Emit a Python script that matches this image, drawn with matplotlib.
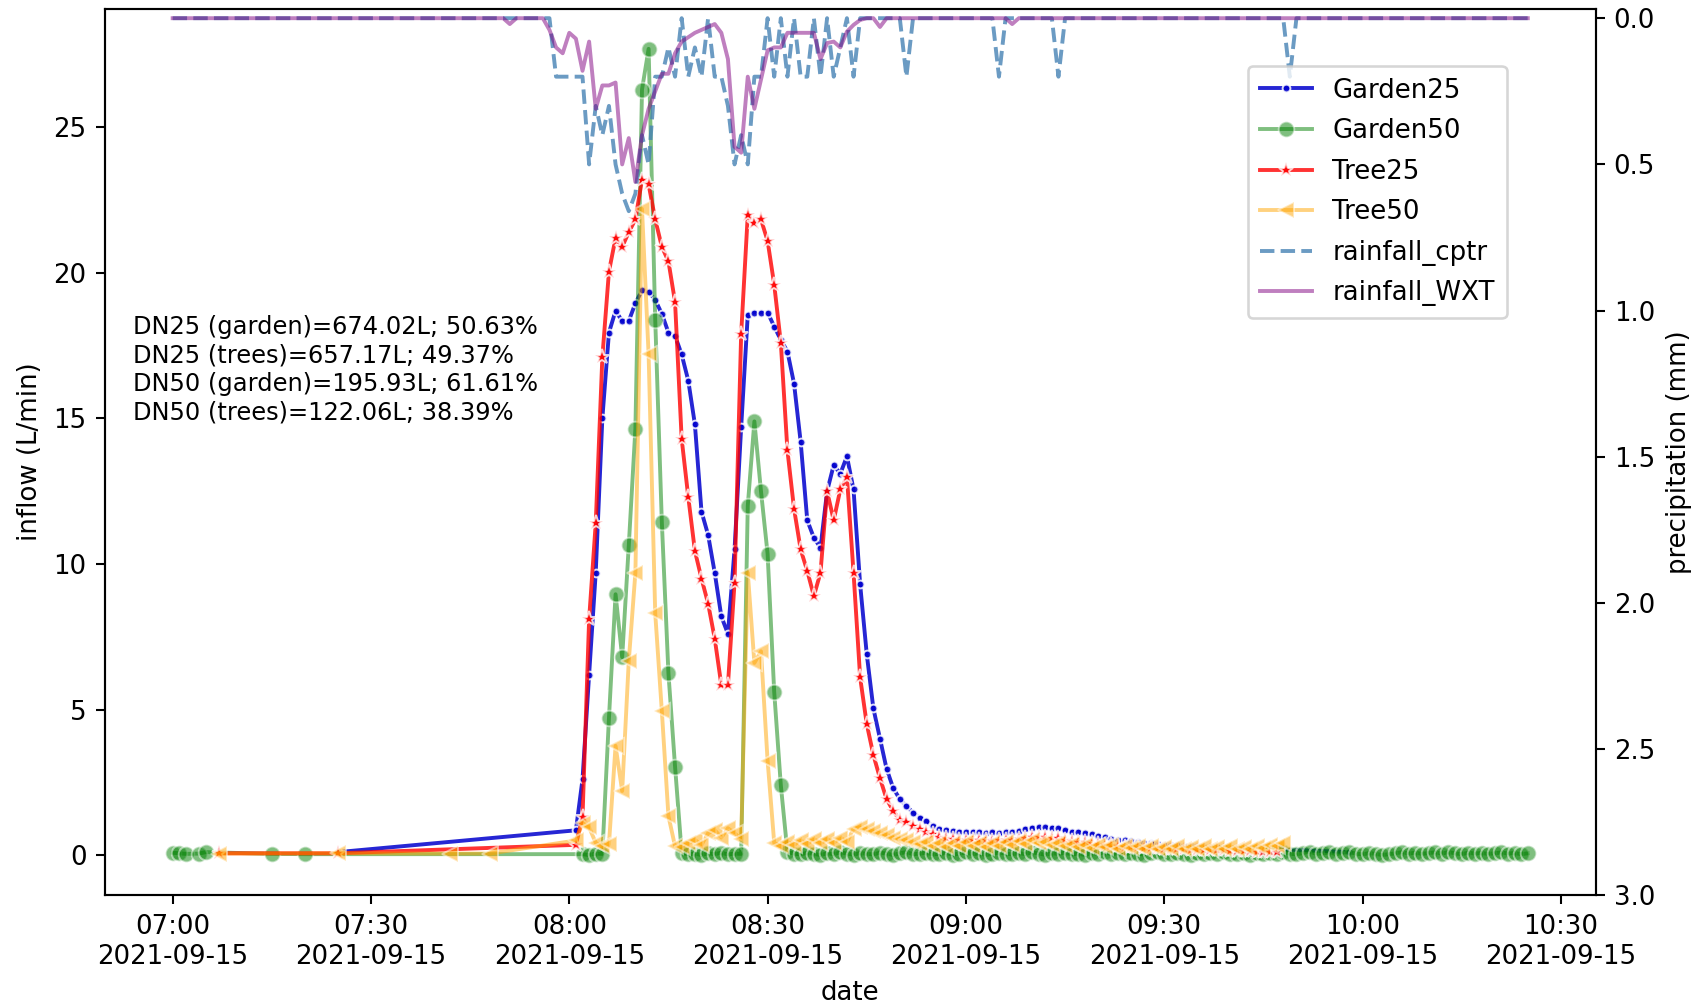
import pandas as pd
import matplotlib
matplotlib.use('Agg')
import matplotlib.pyplot as plt
import matplotlib.dates as mdates

start = pd.Timestamp('2021-09-15 07:00')

# inflow readings (L/min), times as minutes after 07:00
g25_t = [25] + list(range(61, 168)) + [178]
g25_v = [0.1,
         0.85, 2.6, 6.2, 9.7, 15.0, 17.95, 18.7, 18.35, 18.35, 18.96,
         19.4, 19.36, 19.07, 18.6, 17.95, 17.84, 17.2, 16.3, 14.8, 11.8,
         11.0, 9.7, 8.2, 7.6, 10.5, 14.7, 18.56, 18.64, 18.64, 18.64,
         18.16, 17.7, 17.3, 16.2, 14.2, 11.5, 10.9, 10.56, 12.5, 13.4,
         13.1, 13.7, 12.56, 9.3, 6.9, 5.04, 4.0, 2.96, 2.3, 1.92,
         1.68, 1.46, 1.28, 1.17, 1.0, 0.88, 0.85, 0.82, 0.8, 0.78,
         0.8, 0.78, 0.77, 0.78, 0.76, 0.78, 0.8, 0.82, 0.9, 0.94,
         0.95, 0.95, 0.94, 0.92, 0.85, 0.8, 0.8, 0.74, 0.72, 0.66,
         0.62, 0.55, 0.52, 0.5, 0.47, 0.45, 0.42, 0.4, 0.38, 0.36,
         0.35, 0.33, 0.32, 0.3, 0.3, 0.28, 0.27, 0.27, 0.26, 0.25,
         0.25, 0.24, 0.23, 0.22, 0.22, 0.21, 0.2,
         0.1]

g50_t = [0, 1, 2, 4, 5, 15, 20] + list(range(62, 206))
g50_v = [0.08, 0.06, 0.04, 0.05, 0.1, 0.04, 0.03,
         0.03, 0.0, 0.05, 0.04, 4.7, 8.96, 6.8, 10.64, 14.65, 26.3,
         27.7, 18.4, 11.44, 6.24, 3.04, 0.08, 0.02, 0.05, 0.0, 0.06,
         0.03, 0.08, 0.02, 0.05, 0.04, 12.0, 14.9, 12.5, 10.35, 5.6,
         2.4, 0.1,
         0.05, 0.02, 0.08, 0.04, 0.0, 0.06, 0.03, 0.09, 0.05, 0.01, 0.07, 0.04,
         0.02, 0.08, 0.05, 0.0, 0.06, 0.1, 0.03, 0.05, 0.08, 0.02, 0.04, 0.07,
         0.01, 0.05, 0.09, 0.03, 0.06, 0.0, 0.04, 0.08, 0.05, 0.02, 0.07, 0.03,
         0.1, 0.05, 0.01, 0.06, 0.04, 0.08, 0.02, 0.05, 0.0, 0.07, 0.04, 0.09,
         0.03, 0.06, 0.02, 0.08, 0.05, 0.01, 0.06, 0.1, 0.04, 0.02, 0.07, 0.05,
         0.0, 0.08, 0.03, 0.06, 0.04, 0.09, 0.02, 0.05, 0.07, 0.01, 0.06, 0.04,
         0.08, 0.03, 0.1, 0.05, 0.02, 0.07, 0.12, 0.04, 0.06, 0.09, 0.03, 0.08,
         0.1, 0.05, 0.02, 0.07, 0.04, 0.0, 0.03, 0.06, 0.1, 0.05, 0.08, 0.04,
         0.07, 0.09, 0.05, 0.1, 0.06, 0.03, 0.08, 0.05, 0.07, 0.04, 0.06, 0.09,
         0.05, 0.07, 0.03, 0.06]

t25_t = [7, 25] + list(range(61, 168))
t25_v = [0.06, 0.06,
         0.35, 1.3, 8.1, 11.4, 17.1, 20.05, 21.2, 20.9, 21.4, 21.84,
         23.2, 23.04, 21.84, 20.9, 20.4, 19.0, 14.3, 12.3, 10.45, 9.5,
         8.64, 7.44, 5.84, 5.84, 9.36, 17.9, 22.0, 21.7, 21.84, 21.1,
         19.6, 17.6, 13.9, 11.9, 10.5, 9.76, 8.9, 9.7, 12.5, 11.5,
         12.56, 13.0, 9.7, 6.1, 4.5, 3.44, 2.64, 1.92, 1.52, 1.2,
         1.15, 1.0, 0.88, 0.79, 0.71, 0.62, 0.58, 0.55, 0.53, 0.52,
         0.52, 0.5, 0.5, 0.49, 0.5, 0.5, 0.52, 0.55, 0.58, 0.62,
         0.63, 0.62, 0.6, 0.58, 0.5, 0.48, 0.46, 0.45, 0.42, 0.38,
         0.35, 0.33, 0.3, 0.28, 0.27, 0.26, 0.25, 0.24, 0.23, 0.22,
         0.21, 0.2, 0.2, 0.19, 0.18, 0.18, 0.17, 0.16, 0.16, 0.15,
         0.14, 0.14, 0.13, 0.12, 0.12, 0.11, 0.1]

t50_t = [7, 25, 42, 48] + list(range(61, 169))
t50_v = [0.05, 0.06, 0.05, 0.05,
         0.5, 1.1, 0.95, 0.42, 0.3, 0.37, 3.75, 2.2, 6.67, 9.7,
         22.2, 17.2, 8.3, 4.95, 1.34, 0.3, 0.29, 0.4, 0.52, 0.35,
         0.75, 0.86, 0.6, 0.92, 0.75, 0.55, 9.7, 6.6, 7.0, 3.24,
         0.42,
         0.3, 0.45, 0.35, 0.5, 0.38, 0.55, 0.4, 0.55, 0.42, 0.6, 0.45, 0.9,
         0.95, 0.88, 0.82, 0.75, 0.7, 0.6, 0.55, 0.5, 0.45, 0.38, 0.45, 0.3,
         0.42, 0.28, 0.4, 0.3, 0.45, 0.32, 0.4, 0.28, 0.42, 0.3, 0.44, 0.35,
         0.48, 0.38, 0.5, 0.4, 0.45, 0.35, 0.42, 0.3, 0.38, 0.28, 0.36, 0.25,
         0.35, 0.27, 0.33, 0.22, 0.32, 0.25, 0.3, 0.22, 0.3, 0.2, 0.28, 0.22,
         0.3, 0.2, 0.28, 0.22, 0.3, 0.2, 0.28, 0.22, 0.3, 0.2, 0.28, 0.22,
         0.3, 0.25, 0.35, 0.3, 0.4]

# rainfall (mm per minute); minutes not listed recorded 0
rain_minutes = list(range(0, 206))
cptr_wet = {58: 0.2, 59: 0.2, 60: 0.2, 61: 0.2, 62: 0.2, 63: 0.5, 64: 0.3,
            65: 0.4, 66: 0.3, 67: 0.5, 68: 0.6, 69: 0.66, 70: 0.6, 71: 0.4,
            72: 0.5, 73: 0.2, 74: 0.2, 75: 0.1, 76: 0.2, 78: 0.2, 79: 0.1,
            80: 0.2, 82: 0.2, 83: 0.2, 84: 0.3, 85: 0.5, 86: 0.4, 87: 0.5,
            88: 0.2, 89: 0.2, 91: 0.2, 93: 0.2, 95: 0.2, 96: 0.2, 98: 0.2,
            100: 0.2, 101: 0.1, 103: 0.2, 111: 0.2, 125: 0.2, 134: 0.2,
            169: 0.2}
wxt_wet = {51: 0.02, 57: 0.04, 58: 0.1, 59: 0.12, 60: 0.05, 61: 0.07,
           62: 0.18, 63: 0.08, 64: 0.31, 65: 0.23, 66: 0.23, 67: 0.22,
           68: 0.5, 69: 0.41, 70: 0.56, 71: 0.4, 72: 0.31, 73: 0.25,
           74: 0.19, 75: 0.19, 76: 0.12, 77: 0.08, 78: 0.065, 79: 0.05,
           80: 0.04, 81: 0.03, 82: 0.02, 83: 0.05, 84: 0.14, 85: 0.44,
           86: 0.46, 87: 0.2, 88: 0.31, 89: 0.21, 90: 0.11, 91: 0.1,
           92: 0.1, 93: 0.05, 94: 0.05, 95: 0.05, 96: 0.05, 97: 0.05,
           98: 0.14, 99: 0.085, 100: 0.08, 101: 0.1, 102: 0.046,
           103: 0.023, 104: 0.006, 107: 0.03, 127: 0.02}

volumes = ['DN25 (garden)=674.02L; 50.63%',
           'DN25 (trees)=657.17L; 49.37%',
           'DN50 (garden)=195.93L; 61.61%',
           'DN50 (trees)=122.06L; 38.39%']


def to_time(minutes):
    return start + pd.to_timedelta(minutes, unit='m')


rain_time = to_time(rain_minutes)
cptr = [cptr_wet.get(m, 0.0) for m in rain_minutes]
wxt = [wxt_wet.get(m, 0.0) for m in rain_minutes]

fig, ax = plt.subplots(figsize=(1692 / 187, 1006 / 187), dpi=187)
fig.subplots_adjust(left=0.062, right=0.943, top=0.9915, bottom=0.11)

mk = dict(mec='w', mew=0.75, ms=6)
ax.plot(to_time(g25_t), g25_v, color='mediumblue', marker='.', alpha=0.85, label='Garden25', **mk)
ax.plot(to_time(g50_t), g50_v, color='green', marker='o', alpha=0.5, label='Garden50', **mk)
ax.plot(to_time(t25_t), t25_v, color='red', marker='*', alpha=0.8, label='Tree25', **mk)
ax.plot(to_time(t50_t), t50_v, color='orange', marker='<', alpha=0.5, label='Tree50', **mk)

ax.text(0.019, 0.593, '\n'.join(volumes), transform=ax.transAxes,
        va='center', fontsize=9.3, linespacing=1.24)

ax.set_xlabel('date')
ax.set_ylabel('inflow (L/min)')
ax.xaxis.set_major_locator(mdates.MinuteLocator(byminute=[0, 30]))
ax.xaxis.set_major_formatter(mdates.DateFormatter('%H:%M\n%Y-%m-%d'))

ax2 = ax.twinx()
ax2.plot(rain_time, cptr, color='steelblue', ls='--', alpha=0.8, label='rainfall_cptr')
ax2.plot(rain_time, wxt, color='purple', alpha=0.5, label='rainfall_WXT')
ax2.invert_yaxis()
ax2.set_ylim(bottom=3)
ax2.set_ylabel('precipitation (mm)')

h1, l1 = ax.get_legend_handles_labels()
h2, l2 = ax2.get_legend_handles_labels()
ax2.legend(h1 + h2, l1 + l2, loc='upper right', bbox_to_anchor=(0.949, 0.95),
           labelspacing=0.56, borderpad=0.45)

fig.savefig('out.png', dpi=187)
